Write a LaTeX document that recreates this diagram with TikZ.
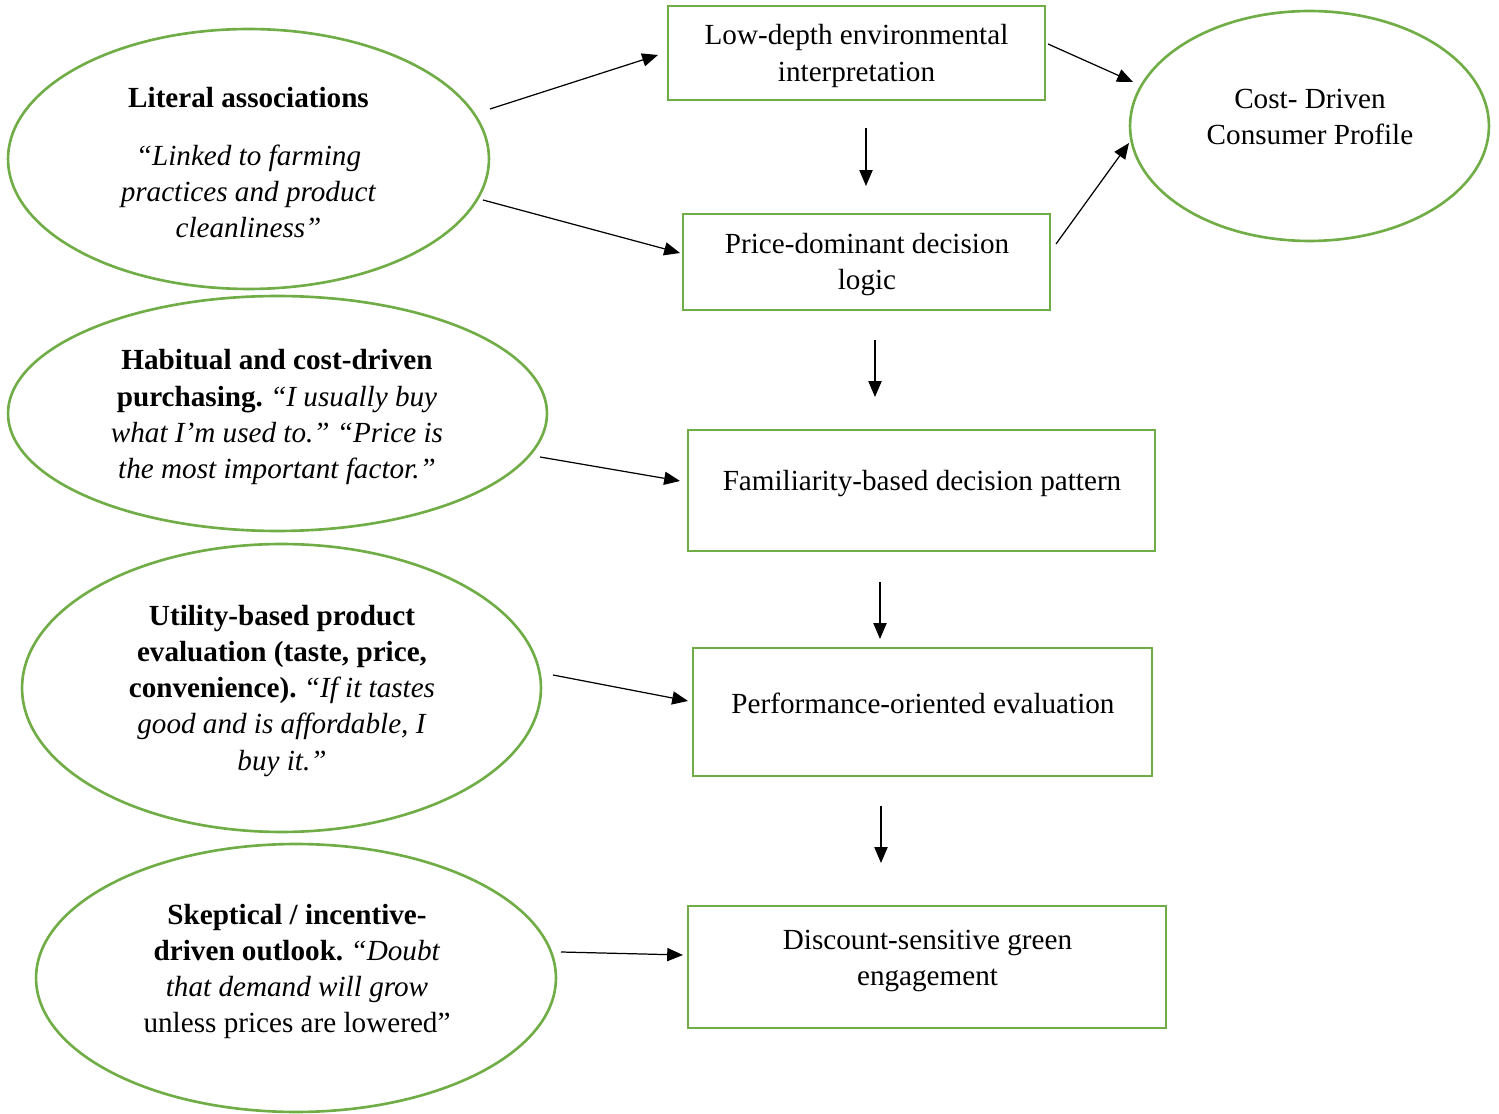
\documentclass[tikz,border=0pt]{standalone}
\usepackage{fontspec}
\setmainfont{Liberation Serif}
\usetikzlibrary{shapes.geometric,arrows.meta}
\definecolor{leaf}{HTML}{70AD47}
\frenchspacing
\begin{document}
\begin{tikzpicture}[x=0.02cm,y=-0.02cm,
  oval/.style={draw=leaf,line width=1.5pt,ellipse,inner sep=0pt},
  box/.style={draw=leaf,line width=1.6pt,rectangle,inner sep=0pt},
  txt/.style={align=center,inner sep=0pt,font=\fontsize{16.6}{20.5}\selectfont},
  arr/.style={line width=0.7pt,-{Triangle[length=9pt,width=7.5pt]}}]
\useasboundingbox (0,0) rectangle (1499,1114);

% left-hand ovals: themes with quotations
\node[oval,minimum width=9.62cm,minimum height=5.2cm] (e1) at (248.5,159) {};
\node[txt] (t1) at (248.5,162.5) {\textbf{Literal associations}\\[12.5pt]
  \textit{“Linked to farming}\\ \textit{practices and product}\\ \textit{cleanliness”}};

\node[oval,minimum width=10.78cm,minimum height=4.7cm] (e2) at (277.5,413.5) {};
\node[txt] (t2) at (277,417) {\textbf{Habitual and cost-driven}\\
  \textbf{purchasing.} \textit{“I usually buy}\\
  \textit{what I’m used to.” “Price is}\\
  \textit{the most important factor.”}};

\node[oval,minimum width=10.38cm,minimum height=5.76cm] (e3) at (281.5,688) {};
\node[txt] (t3) at (282,691) {\textbf{Utility-based product}\\
  \textbf{evaluation (taste, price,}\\
  \textbf{convenience).} \textit{“If it tastes}\\
  \textit{good and is affordable, I}\\
  \textit{buy it.”}};

\node[oval,minimum width=10.4cm,minimum height=5.36cm] (e4) at (296,978) {};
\node[txt] (t4) at (297,971.5) {\textbf{Skeptical / incentive-}\\
  \textbf{driven outlook.} \textit{“Doubt}\\
  \textit{that demand will grow}\\
  unless prices are lowered”};

% outcome oval
\node[oval,minimum width=7.18cm,minimum height=4.6cm] (e5) at (1309.5,126) {};
\node[txt] (t5) at (1310,117) {Cost- Driven\\ Consumer Profile};

% central chain of boxes
\node[box,minimum width=7.54cm,minimum height=1.88cm] (b1) at (856.5,53) {};
\node[txt] (bt1) at (856.5,56) {Low-depth environmental\\ interpretation};

\node[box,minimum width=7.34cm,minimum height=1.92cm] (b2) at (866.5,262) {};
\node[txt] (bt2) at (867,265) {Price-dominant decision\\ logic};

\node[box,minimum width=9.34cm,minimum height=2.42cm] (b3) at (921.5,490.5) {};
\node[txt] (bt3) at (922,483.5) {Familiarity-based decision pattern};

\node[box,minimum width=9.18cm,minimum height=2.56cm] (b4) at (922.5,712) {};
\node[txt] (bt4) at (923,703) {Performance-oriented evaluation};

\node[box,minimum width=9.56cm,minimum height=2.44cm] (b5) at (927,967) {};
\node[txt] (bt5) at (927.5,961) {Discount-sensitive green\\ engagement};

% connector end points (arrows stop short of the shapes)
\coordinate (a1s) at (490,109);  \coordinate (a1e) at (658,55);
\coordinate (a2s) at (483,200);  \coordinate (a2e) at (680,253);
\coordinate (a3s) at (866,128);  \coordinate (a3e) at (866,186);
\coordinate (a4s) at (1048,44);  \coordinate (a4e) at (1133,82);
\coordinate (a5s) at (1056,244); \coordinate (a5e) at (1129,143);
\coordinate (a6s) at (875,340);  \coordinate (a6e) at (875,397);
\coordinate (a7s) at (540,457);  \coordinate (a7e) at (680,481);
\coordinate (a8s) at (880,582);  \coordinate (a8e) at (880,639);
\coordinate (a9s) at (553,675);  \coordinate (a9e) at (688,701);
\coordinate (a10s) at (881,806); \coordinate (a10e) at (881,863);
\coordinate (a11s) at (561,952); \coordinate (a11e) at (683,955);

\foreach \i in {1,...,11} \draw[arr] (a\i s) -- (a\i e);
\end{tikzpicture}
\end{document}
